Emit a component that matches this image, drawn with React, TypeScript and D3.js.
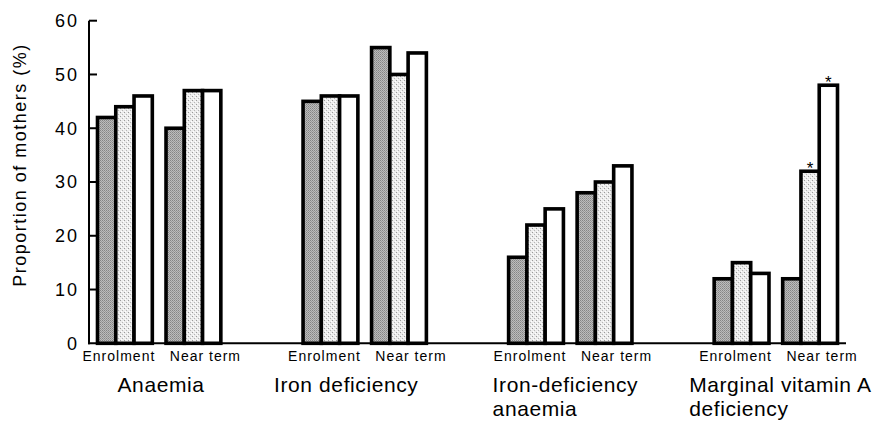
import React, { useEffect, useRef } from "react";
import * as d3 from "d3";

const categories = ["Anaemia", "Iron deficiency", "Iron-deficiency\nanaemia", "Marginal vitamin A\ndeficiency"];
const timepoints = ["Enrolment", "Near term"];
const series = ["s1", "s2", "s3"];

// values[category][timepoint][series]
const anaemia = [[42, 44, 46], [40, 47, 47]];
const ironDef = [[45, 46, 46], [55, 50, 54]];
const ida = [[16, 22, 25], [28, 30, 33]];
const vitA = [[12, 15, 13], [12, 32, 48]];
const values = [anaemia, ironDef, ida, vitA];

// significant differences marked with an asterisk: [category, timepoint, series]
const starred = [[3, 1, 1], [3, 1, 2]];

const yTicks = [0, 10, 20, 30, 40, 50, 60];

const W = 878;
const H = 421;
// hand-placed label nudges, as in the original figure
const catLabelDx = [20, -29, -16, -25];
const subLabelDx = [-6, 12];

const App: React.FC = () => {
  const svgRef = useRef<SVGSVGElement>(null);

  useEffect(() => {
    if (!svgRef.current) return;
    const svg = d3.select(svgRef.current);
    svg.selectAll("*").remove();

    const font = "'Liberation Sans', Arial, Helvetica, sans-serif";
    const axisX = 89;
    const y = d3.scaleLinear().domain([0, 60]).range([343.3, 20.7]);

    // patterns
    const defs = svg.append("defs");
    const dark = defs.append("pattern").attr("id", "pDark").attr("width", 2).attr("height", 2)
      .attr("patternUnits", "userSpaceOnUse");
    dark.append("rect").attr("width", 2).attr("height", 2).attr("fill", "#bcbcbc");
    dark.append("rect").attr("width", 1).attr("height", 1).attr("fill", "#858585");
    dark.append("rect").attr("x", 1).attr("y", 1).attr("width", 1).attr("height", 1).attr("fill", "#989898");

    const light = defs.append("pattern").attr("id", "pLight").attr("width", 4).attr("height", 4)
      .attr("patternUnits", "userSpaceOnUse");
    light.append("rect").attr("width", 4).attr("height", 4).attr("fill", "#ececec");
    light.append("rect").attr("x", 0).attr("y", 0).attr("width", 1).attr("height", 1).attr("fill", "#9a9a9a");
    light.append("rect").attr("x", 2).attr("y", 2).attr("width", 1).attr("height", 1).attr("fill", "#b5b5b5");
    light.append("rect").attr("x", 3).attr("y", 1).attr("width", 1).attr("height", 1).attr("fill", "#fff");
    light.append("rect").attr("x", 1).attr("y", 3).attr("width", 1).attr("height", 1).attr("fill", "#fff");

    const fills = ["url(#pDark)", "url(#pLight)", "#ffffff"];

    // scales
    const xCat = d3.scaleBand<number>()
      .domain(d3.range(categories.length))
      .range([97.5, 837.5])
      .paddingInner(0.4)
      .paddingOuter(0);
    const xTime = d3.scaleBand<number>()
      .domain(d3.range(timepoints.length))
      .range([0, xCat.bandwidth()])
      .paddingInner(0.2);
    const xSer = d3.scaleBand<number>()
      .domain(d3.range(series.length))
      .range([0, xTime.bandwidth()]);

    // axis
    svg.append("line")
      .attr("x1", axisX).attr("x2", axisX)
      .attr("y1", y(60)).attr("y2", y(0) + 1)
      .attr("stroke", "#000").attr("stroke-width", 2);
    svg.append("line")
      .attr("x1", axisX - 1).attr("x2", 846)
      .attr("y1", y(0)).attr("y2", y(0))
      .attr("stroke", "#000").attr("stroke-width", 2);

    const ticks = svg.append("g");
    ticks.selectAll("line").data(yTicks.filter(t => t > 0)).enter().append("line")
      .attr("x1", axisX).attr("x2", axisX + 8)
      .attr("y1", d => y(d)).attr("y2", d => y(d))
      .attr("stroke", "#000").attr("stroke-width", 2);
    ticks.selectAll("text").data(yTicks).enter().append("text")
      .attr("x", 79)
      .attr("y", d => y(d))
      .attr("dy", "0.36em")
      .attr("text-anchor", "end")
      .attr("font-family", font)
      .attr("font-size", 18)
      .attr("letter-spacing", 2)
      .text(d => d);

    svg.append("text")
      .attr("transform", `translate(26,165) rotate(-90)`)
      .attr("text-anchor", "middle")
      .attr("font-family", font)
      .attr("font-size", 18)
      .attr("letter-spacing", 1.5)
      .text("Proportion of mothers (%)");

    // bars
    values.forEach((cat, ci) => {
      cat.forEach((grp, ti) => {
        const gx = (xCat(ci) ?? 0) + (xTime(ti) ?? 0);
        grp.forEach((v, si) => {
          svg.append("rect")
            .attr("x", gx + (xSer(si) ?? 0))
            .attr("y", y(v))
            .attr("width", xSer.bandwidth())
            .attr("height", y(0) - y(v))
            .attr("fill", fills[si])
            .attr("stroke", "#000")
            .attr("stroke-width", 3.6);
        });
        svg.append("text")
          .attr("x", gx + xTime.bandwidth() / 2 + subLabelDx[ti])
          .attr("y", 361)
          .attr("text-anchor", "middle")
          .attr("font-family", font)
          .attr("font-size", 14)
          .attr("letter-spacing", 1)
          .text(timepoints[ti]);
      });

      const lines = categories[ci].split("\n");
      const t = svg.append("text")
        .attr("font-family", font)
        .attr("font-size", 21)
        .attr("letter-spacing", 0.6);
      lines.forEach((ln, li) => {
        t.append("tspan")
          .attr("x", (xCat(ci) ?? 0) + catLabelDx[ci])
          .attr("y", 392 + li * 24)
          .text(ln);
      });
    });

    // asterisks
    starred.forEach(([ci, ti, si]) => {
      const v = values[ci][ti][si];
      svg.append("text")
        .attr("x", (xCat(ci) ?? 0) + (xTime(ti) ?? 0) + (xSer(si) ?? 0) + xSer.bandwidth() / 2)
        .attr("y", y(v) + 3)
        .attr("text-anchor", "middle")
        .attr("font-family", font)
        .attr("font-size", 17)
        .text("*");
    });
  }, []);

  return (
    <svg
      ref={svgRef}
      width={W}
      height={H}
      style={{ position: "absolute", left: 0, top: 0, background: "#fff" }}
    />
  );
};

export default App;
